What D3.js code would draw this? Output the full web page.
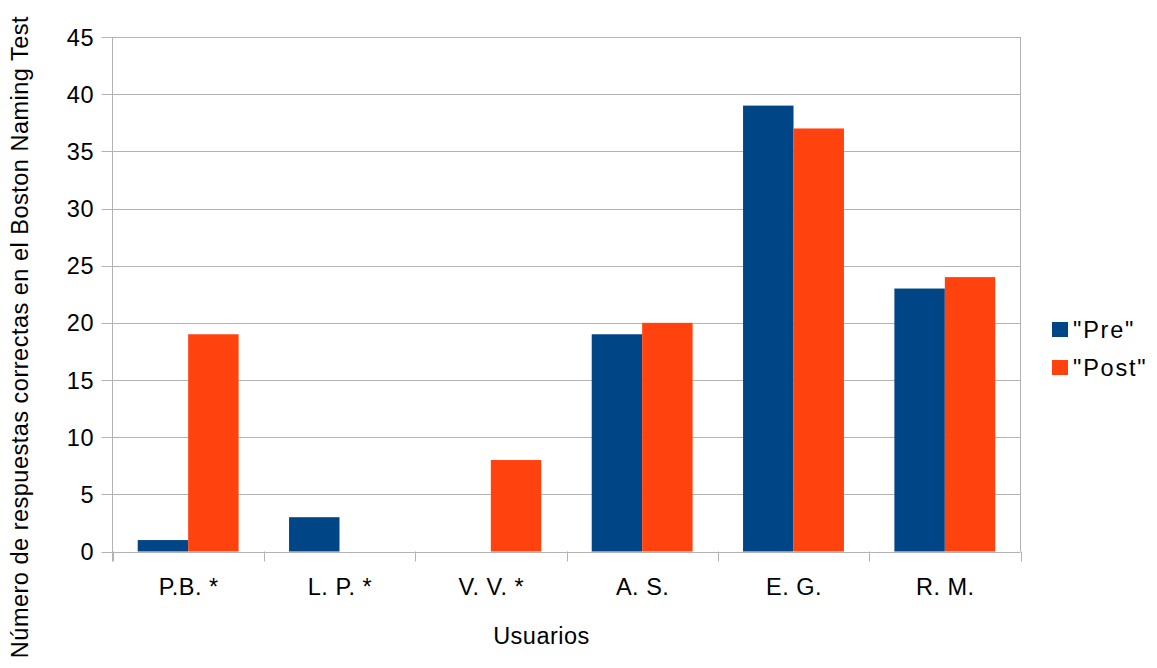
<!DOCTYPE html>
<html>
<head>
<meta charset="utf-8">
<script src="https://cdn.jsdelivr.net/npm/d3@7"></script>
<style>
  body { margin: 0; background: #fff; }
  text { font-family: "Liberation Sans", Arial, sans-serif; fill: #000; font-size: 23.5px; letter-spacing: 0.5px; }
  .legend text { letter-spacing: 1.8px; }
</style>
</head>
<body>
<svg id="chart" width="1157" height="668"></svg>
<script>
const categories = ["P.B. *", "L. P. *", "V. V. *", "A. S.", "E. G.", "R. M."];
const preValues  = [1, 3, 0, 19, 39, 23];
const postValues = [19, 0, 8, 20, 37, 24];
const seriesNames = ['"Pre"', '"Post"'];
const yTicks = [0, 5, 10, 15, 20, 25, 30, 35, 40, 45];

const colors = ["#004586", "#ff420e"];
const svg = d3.select("#chart");
const plot = { left: 112.5, right: 1020.5, top: 37, bottom: 551.5 };

const x = d3.scaleBand().domain(categories).range([plot.left, plot.right]).paddingInner(0).paddingOuter(0);
const inner = d3.scaleBand().domain([0, 1]).range([x.bandwidth() / 6, x.bandwidth() * 5 / 6]);
const y = d3.scaleLinear().domain([0, 45]).range([plot.bottom, plot.top]);

// horizontal grid with outward tick stubs
svg.append("g").selectAll("line").data(yTicks).join("line")
  .attr("x1", plot.left - 11).attr("x2", plot.right)
  .attr("y1", d => Math.round(y(d)) + 0.5).attr("y2", d => Math.round(y(d)) + 0.5)
  .attr("stroke", "#b3b3b3").attr("stroke-width", 1);

// vertical frame lines (axis + right edge)
svg.append("line").attr("x1", plot.left).attr("x2", plot.left)
  .attr("y1", plot.top).attr("y2", plot.bottom + 10).attr("stroke", "#b3b3b3");
svg.append("line").attr("x1", plot.right).attr("x2", plot.right)
  .attr("y1", plot.top).attr("y2", plot.bottom).attr("stroke", "#b3b3b3");

// category tick marks
const bounds = categories.map(c => x(c)).concat([plot.right]);
svg.append("g").selectAll("line").data(bounds).join("line")
  .attr("x1", d => Math.round(d) + 0.5).attr("x2", d => Math.round(d) + 0.5)
  .attr("y1", plot.bottom).attr("y2", plot.bottom + 10)
  .attr("stroke", "#b3b3b3");

// bars
const series = [preValues, postValues];
series.forEach((vals, si) => {
  svg.append("g").selectAll("rect").data(vals).join("rect")
    .attr("x", (d, i) => x(categories[i]) + inner(si))
    .attr("width", inner.bandwidth())
    .attr("y", d => y(d))
    .attr("height", d => y(0) - y(d))
    .attr("fill", colors[si]);
});

// y tick labels
svg.append("g").selectAll("text").data(yTicks).join("text")
  .attr("x", 94).attr("y", d => y(d) + 8.5)
  .attr("text-anchor", "end").text(d => d);

// x category labels
svg.append("g").selectAll("text").data(categories).join("text")
  .attr("x", d => x(d) + x.bandwidth() / 2 + 0.5).attr("y", 594.5)
  .attr("text-anchor", "middle").text(d => d);

// axis titles
svg.append("text").attr("x", 541.5).attr("y", 643.5)
  .attr("text-anchor", "middle").text("Usuarios");
svg.append("text")
  .attr("transform", "translate(27.5, 337) rotate(-90)")
  .attr("text-anchor", "middle")
  .text("Número de respuestas correctas en el Boston Naming Test");

// legend
const legend = svg.append("g").attr("class", "legend");
seriesNames.forEach((name, i) => {
  const ly = 322 + i * 38;
  legend.append("rect").attr("x", 1052).attr("y", ly).attr("width", 16).attr("height", 15)
    .attr("fill", colors[i]);
  legend.append("text").attr("x", 1073).attr("y", ly + 15.5)
    .text(name);
});
</script>
</body>
</html>
